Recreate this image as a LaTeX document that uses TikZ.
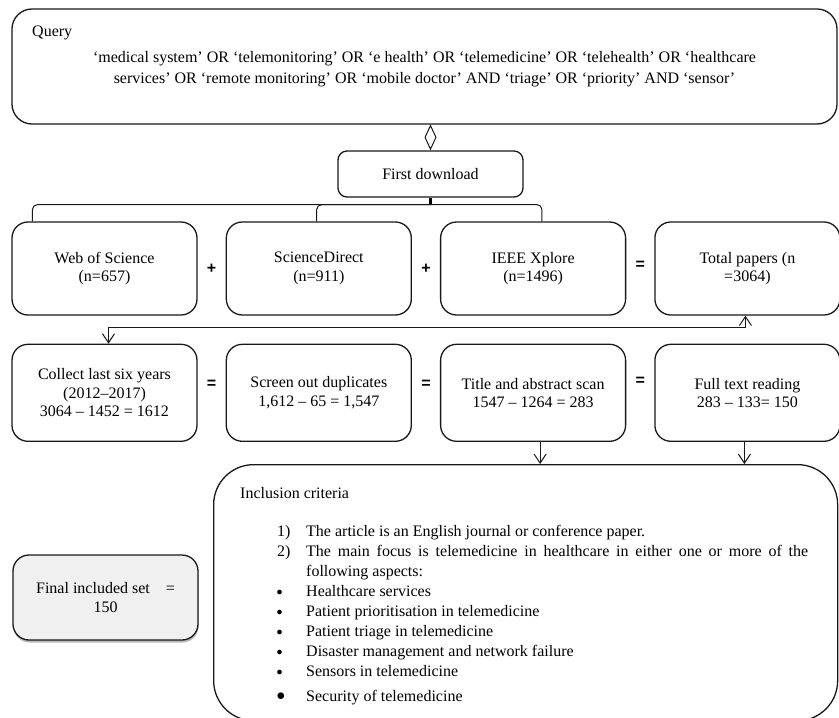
\documentclass[tikz,border=0pt]{standalone}
\usepackage{fontspec}
\setmainfont{Liberation Serif}
\newfontfamily\signfont{Liberation Sans}
\usetikzlibrary{positioning}
\usetikzlibrary{arrows.meta}
\usetikzlibrary{shadows}
\tikzset{
  stage/.style= {
    rectangle,
    rounded corners=16bp,
    draw=black!90,
    line width=1.3bp,
    minimum width=185bp,
    minimum height=93bp,
    inner sep=2bp,
    align=center,
    font=\fontsize{16bp}{18.5bp}\selectfont
  },
  querybox/.style= {
    stage,
    rounded corners=20bp,
    minimum width=825bp,
    minimum height=115bp
  },
  downloadbox/.style= {
    stage,
    rounded corners=9bp,
    minimum height=46bp
  },
  criteriabox/.style= {
    stage,
    rounded corners=40bp,
    minimum width=624bp,
    minimum height=256bp
  },
  finalbox/.style= {
    stage,
    fill=black!6,
    minimum height=85bp,
    drop shadow={shadow xshift=0.5bp,shadow yshift=-2.5bp,fill=black!55}
  },
  plaintext/.style= {
    inner sep=0bp,
    font=\fontsize{16bp}{20bp}\selectfont
  },
  sign/.style= {
    inner sep=0bp,
    font=\signfont\bfseries\fontsize{16bp}{18bp}\selectfont
  },
  link/.style= {
    draw=black!90,
    line width=1bp
  },
  flow/.style= {
    link,
    -{Straight Barb[length=9bp,width=12bp]}
  }
}
\newcommand{\critbullet}[1][12bp]{\makebox[29bp][l]{\hspace{-0.5bp}\raisebox{0.5bp}{\fontsize{#1}{20bp}\selectfont$\bullet$}}}

\begin{document}
\begin{tikzpicture}[x=1bp,y=-1bp]
  \useasboundingbox (0,0) rectangle (839,718);

  \node[querybox] (query) at (424.5,66.5) {};
  \node[plaintext,anchor=west] (qtitle) at (32,33) {Query};
  \node[plaintext,align=center,font=\fontsize{16bp}{21bp}\selectfont] (qterms) at (424.5,69)
    {`medical system' OR `telemonitoring' OR `e health' OR `telemedicine' OR `telehealth' OR `healthcare\\
     services' OR `remote monitoring' OR `mobile doctor' AND `triage' OR `priority' AND `sensor'};

  \node[downloadbox] (fd) at (430.5,174) {First download};
  \draw[link,-{Diamond[open,length=26bp,width=12bp]}] (fd.north |- query.south) -- (fd.north);

  \node[stage] (wos) at (104.5,268.5) {Web of Science\\(n=657)};
  \node[stage,right=28bp of wos] (sd) {ScienceDirect\\(n=911)};
  \node[stage,right=28bp of sd] (ieee) {IEEE Xplore\\(n=1496)};
  \node[stage,right=28bp of ieee] (total) {Total papers (n\\=3064)};
  \path (wos) -- node[sign] (plusa) {+} (sd);
  \path (sd) -- node[sign] (plusb) {+} (ieee);
  \path (ieee) -- node[sign,yshift=3bp] (eqa) {=} (total);

  \draw[line width=2.2bp] (fd.south) -- ([yshift=-7bp]fd.south);
  \draw[link,rounded corners=5bp] ([xshift=21bp]wos.north west) |- ([yshift=-7bp]fd.south)
    -| ([xshift=102bp]ieee.north west);
  \draw[link,rounded corners=5bp] ([xshift=91bp]sd.north west) |- ([yshift=-7bp]fd.south);

  \node[stage,minimum height=97bp,below=28bp of wos] (collect) {Collect last six years\\(2012--2017)\\3064 -- 1452 = 1612};
  \node[stage,minimum height=97bp,right=28bp of collect] (dupes) {Screen out duplicates\\1,612 -- 65 = 1,547};
  \node[stage,minimum height=97bp,right=28bp of dupes] (title) {Title and abstract scan\\1547 -- 1264 = 283};
  \node[stage,minimum height=97bp,right=28bp of title] (full) {Full text reading\\283 -- 133= 150};
  \path (collect) -- node[sign,yshift=8bp] (eqb) {=} (dupes);
  \path (dupes) -- node[sign,yshift=8bp] (eqc) {=} (title);
  \path (title) -- node[sign,yshift=11bp] (eqd) {=} (full);

  \draw[link,{Straight Barb[length=9bp,width=12bp]}-{Straight Barb[length=9bp,width=12bp]}]
    ([xshift=-2bp]total.south) -- ++(0,12) -| ([xshift=4bp]collect.north);

  \node[criteriabox,anchor=north west] (incl) at (213,464) {};
  \draw[flow] ([xshift=7bp]title.south) -- ([xshift=7bp]title.south |- incl.north);
  \draw[flow] ([xshift=-3bp]full.south) -- ([xshift=-3bp]full.south |- incl.north);

  \node[plaintext,anchor=west] (icap) at (240,493) {Inclusion criteria};
  \node[plaintext,anchor=north west,text width=531bp,align=justify] (ilist) at (277,525) {%
    \parindent=0bp
    \makebox[29bp][l]{1)}The article is an English journal or conference paper.\par
    \hangindent=29bp\hangafter=1
    \makebox[29bp][l]{2)}The main focus is telemedicine in healthcare in either one or more of the\linebreak
    following aspects:\par
    \critbullet Healthcare services\par
    \critbullet Patient prioritisation in telemedicine\par
    \critbullet Patient triage in telemedicine\par
    \critbullet Disaster management and network failure\par
    \critbullet Sensors in telemedicine\par
    \vspace{5bp}
    \critbullet[16bp]Security of telemedicine\par};

  \node[finalbox] (final) at (105.5,597.5) {Final included set\hspace{16bp}=\\150};

\end{tikzpicture}
\end{document}
